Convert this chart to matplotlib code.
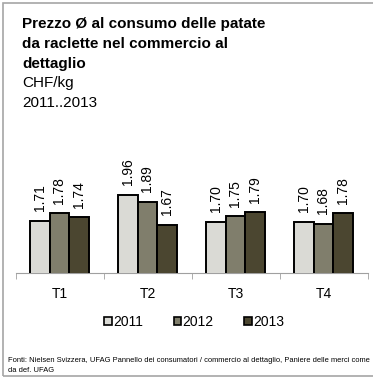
import matplotlib
matplotlib.use("Agg")
from matplotlib import pyplot as plt
from matplotlib.patches import Patch, Rectangle
import numpy as np

plt.rcParams["font.family"] = ["Liberation Sans", "DejaVu Sans"]

quarters = ["T1", "T2", "T3", "T4"]
years = ["2011", "2012", "2013"]
prices_2011 = [1.71, 1.96, 1.70, 1.70]
prices_2012 = [1.78, 1.89, 1.75, 1.68]
prices_2013 = [1.74, 1.67, 1.79, 1.78]
colors = ["#dadad5", "#807e6c", "#4b4630"]

W, H = 373, 383
fig = plt.figure(figsize=(W / 100, H / 100), dpi=100)

# outer frame (right side runs off the picture)
fig.patches.append(Rectangle((3 / W, 1 - 376 / H), 1.0, 373 / H,
                             transform=fig.transFigure, fill=False,
                             edgecolor="#a6a6a6", linewidth=1.2))

# title block
title_lines = ["Prezzo Ø al consumo delle patate",
               "da raclette nel commercio al",
               "dettaglio"]
for line, yb in zip(title_lines, [27.7, 47.7, 68]):
    fig.text(22 / W, 1 - yb / H, line, fontsize=11, fontweight="bold",
             va="baseline", ha="left")
fig.text(22 / W, 1 - 87.3 / H, "CHF/kg", fontsize=11, va="baseline")
fig.text(22 / W, 1 - 107.3 / H, "2011..2013", fontsize=11, va="baseline")

# plot area
ymin, ymax = 1.2, 2.4
base_px = 273.3
top_px = base_px - (ymax - ymin) * 103.4
ax = fig.add_axes([15.5 / W, 1 - base_px / H, 352 / W, (base_px - top_px) / H])

x = np.arange(len(quarters))
bw = 0.224
for i, (vals, c) in enumerate(zip([prices_2011, prices_2012, prices_2013], colors)):
    bars = ax.bar(x + (i - 1) * bw, vals, bw, color=c, edgecolor="black",
                  linewidth=1.4, label=years[i])
    ax.bar_label(bars, fmt="%.2f", rotation=90, padding=7, fontsize=10)

ax.set_ylim(ymin, ymax)
ax.set_xlim(-0.5, 3.5)
for s in ["top", "right", "left"]:
    ax.spines[s].set_visible(False)
ax.spines["bottom"].set_color("#a0a0a0")
ax.spines["bottom"].set_zorder(0)
ax.set_yticks([])
ax.set_xticks(x)
ax.set_xticklabels(quarters, fontsize=10)
ax.tick_params(axis="x", which="major", length=0, pad=10)
ax.set_xticks(np.arange(-0.5, 4, 1), minor=True)
ax.tick_params(axis="x", which="minor", length=4, color="#a0a0a0", direction="out")
ax.patch.set_visible(False)

handles = [Patch(facecolor=c, edgecolor="black", linewidth=1.2) for c in colors]
fig.legend(handles, years, loc="center", bbox_to_anchor=(0.521, 1 - 321.7 / H),
           ncol=3, frameon=False, fontsize=10, handlelength=0.55, handleheight=0.55,
           handletextpad=0.1, columnspacing=2.2)

fig.text(8 / W, 1 - 362.5 / H,
         "Fonti: Nielsen Svizzera, UFAG Pannello dei consumatori / commercio al dettaglio, Paniere delle merci come",
         fontsize=5.4, va="baseline")
fig.text(8 / W, 1 - 372.5 / H, "da def. UFAG", fontsize=5.4, va="baseline")

fig.savefig("out.png", dpi=100)
